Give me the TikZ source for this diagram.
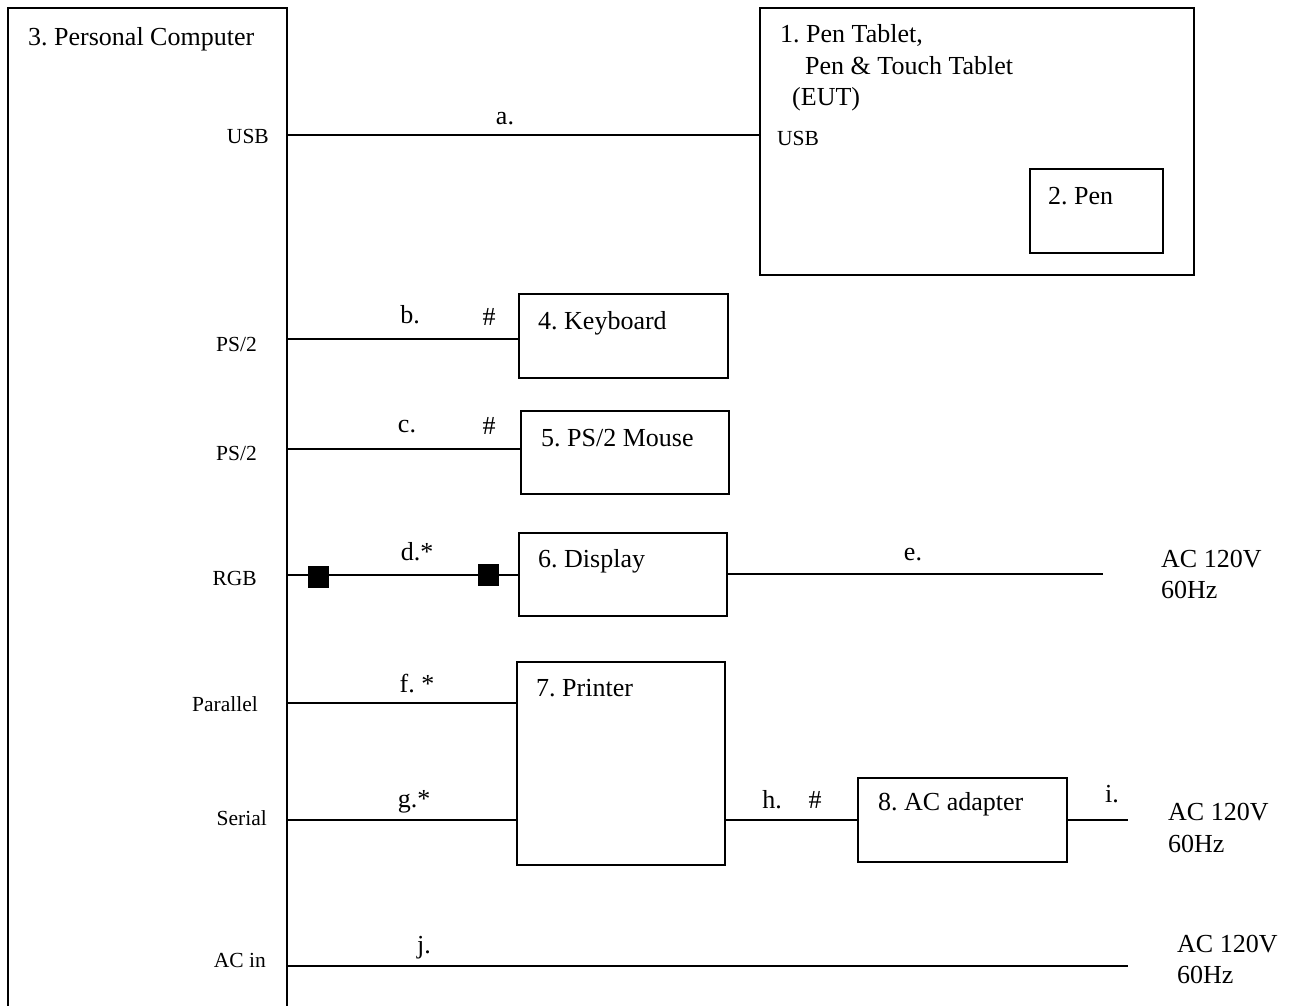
\documentclass[tikz,border=0pt]{standalone}
\usepackage{fontspec}
\setmainfont{Liberation Serif}
\frenchspacing
\begin{document}
\begin{tikzpicture}[x=1pt,y=-1pt,
  box/.style={draw,line width=1.8pt,inner sep=0pt,anchor=north west},
  wire/.style={line width=1.8pt},
  lbl/.style={inner sep=0pt,anchor=base west,font=\fontsize{26}{30}\selectfont},
  wl/.style={inner sep=0pt,anchor=base,font=\fontsize{26}{30}\selectfont},
  port/.style={inner sep=0pt,anchor=base east,font=\fontsize{21.5}{26}\selectfont},
  sq/.style={fill=black,inner sep=0pt,minimum width=21pt,minimum height=22pt}]
\useasboundingbox (0,0) rectangle (1295,1005);

% Personal computer (open at the bottom)
\coordinate (pcBL) at (8,1010);
\coordinate (pcTL) at (8,8);
\coordinate (pcTR) at (287,8);
\coordinate (pcBR) at (287,1010);
\draw[wire] (pcBL) -- (pcTL) -- (pcTR) -- (pcBR);
\node[lbl] (t3) at (28,45) {3. Personal Computer};

% ports on the PC
\coordinate (pA) at (287,135);
\coordinate (pB) at (287,339);
\coordinate (pC) at (287,449);
\coordinate (pD) at (287,575);
\coordinate (pF) at (287,703);
\coordinate (pG) at (287,820);
\coordinate (pJ) at (287,966);
\node[port] (usb) at (269,143) {USB};
\node[port] (ps2a) at (257,351) {PS/2};
\node[port] (ps2b) at (257,460) {PS/2};
\node[port] (rgb) at (257,585) {RGB};
\node[port] (par) at (258,711) {Parallel};
\node[port] (ser) at (267,825) {Serial};
\node[port] (acin) at (266,967) {AC in};

% boxes
\node[box,minimum width=434pt,minimum height=267pt] (tab) at (759,7) {};
\node[box,minimum width=133pt,minimum height=84pt] (pen) at (1029,168) {};
\node[box,minimum width=209pt,minimum height=84pt] (kb) at (518,293) {};
\node[box,minimum width=208pt,minimum height=83pt] (mouse) at (520,410) {};
\node[box,minimum width=208pt,minimum height=83pt] (disp) at (518,532) {};
\node[box,minimum width=208pt,minimum height=203pt] (prn) at (516,661) {};
\node[box,minimum width=209pt,minimum height=84pt] (ada) at (857,777) {};

% box texts
\node[lbl] (t1a) at (780,42) {1. Pen Tablet,};
\node[lbl] (t1b) at (805,74) {Pen \& Touch Tablet};
\node[lbl] (t1c) at (792,105) {(EUT)};
\node[port,anchor=base west] (tusb) at (777,145) {USB};
\node[lbl] (t2) at (1048,204) {2. Pen};
\node[lbl] (t4) at (538,329) {4. Keyboard};
\node[lbl] (t5) at (541,446) {5. PS/2 Mouse};
\node[lbl] (t6) at (538,567) {6. Display};
\node[lbl] (t7) at (536,696) {7. Printer};
\node[lbl] (t8) at (878,810) {8. AC adapter};

% free ends
\coordinate (eEnd) at (1103,574);
\coordinate (iEnd) at (1128,820);
\coordinate (jEnd) at (1128,966);

% connectors
\draw[wire] (pA) -- (tab.west |- pA);
\draw[wire] (pB) -- (kb.west |- pB);
\draw[wire] (pC) -- (mouse.west |- pC);
\draw[wire] (pD) -- (disp.west |- pD);
\draw[wire] (disp.east |- eEnd) -- (eEnd);
\draw[wire] (pF) -- (prn.west |- pF);
\draw[wire] (pG) -- (prn.west |- pG);
\draw[wire] (prn.east |- pG) -- (ada.west |- pG);
\draw[wire] (ada.east |- iEnd) -- (iEnd);
\draw[wire] (pJ) -- (jEnd);

% ferrite cores on d
\node[sq] (core1) at (318.5,577) {};
\node[sq] (core2) at (488.5,574.5) {};

% connector labels
\node[wl] (la) at (505,124) {a.};
\node[wl] (lb) at (410,323) {b.};
\node[wl] (hb) at (489,325) {\#};
\node[wl] (lc) at (407,432) {c.};
\node[wl] (hc) at (489,434) {\#};
\node[wl] (ld) at (417,560) {d.*};
\node[wl] (le) at (913,560) {e.};
\node[wl] (lf) at (417,692) {f. *};
\node[wl] (lg) at (414,807) {g.*};
\node[wl] (lh) at (772,808) {h.};
\node[wl] (hh) at (815,808) {\#};
\node[wl] (li) at (1112,802) {i.};
\node[wl] (lj) at (424,953) {j.};

% mains labels
\node[lbl] (ac1a) at (1161,567) {AC 120V};
\node[lbl] (ac1b) at (1161,598) {60Hz};
\node[lbl] (ac2a) at (1168,820) {AC 120V};
\node[lbl] (ac2b) at (1168,852) {60Hz};
\node[lbl] (ac3a) at (1177,952) {AC 120V};
\node[lbl] (ac3b) at (1177,983) {60Hz};
\end{tikzpicture}
\end{document}
